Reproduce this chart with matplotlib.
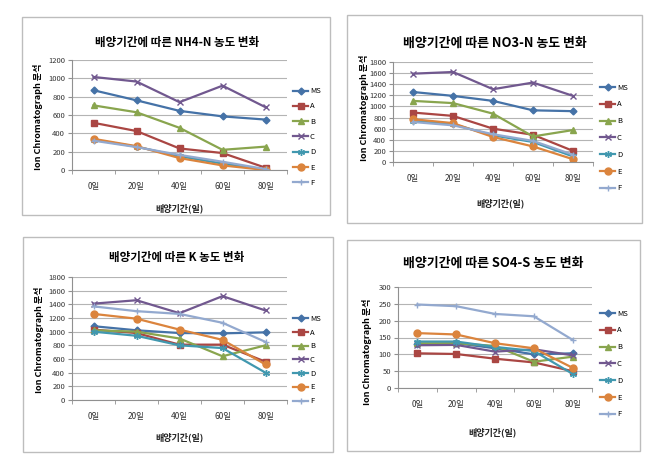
import matplotlib
matplotlib.use("Agg")
import matplotlib.pyplot as plt
from matplotlib.patches import Rectangle

plt.rcParams['font.family'] = ['Noto Sans CJK KR', 'DejaVu Sans']

W, H = 659, 462

days = ['0일', '20일', '40일', '60일', '80일']
series_names = ['MS', 'A', 'B', 'C', 'D', 'E', 'F']

# NH4-N
nh4_ms = [870, 760, 645, 585, 550]
nh4_a = [515, 425, 235, 185, 25]
nh4_b = [705, 630, 460, 220, 255]
nh4_c = [1015, 965, 740, 920, 685]
nh4_d = [330, 255, 150, 70, 5]
nh4_e = [340, 260, 130, 50, 0]
nh4_f = [320, 250, 165, 90, 10]

# NO3-N
no3_ms = [1260, 1190, 1100, 930, 915]
no3_a = [890, 830, 600, 490, 200]
no3_b = [1100, 1060, 870, 460, 575]
no3_c = [1590, 1620, 1310, 1430, 1190]
no3_d = [740, 680, 480, 360, 100]
no3_e = [770, 700, 450, 280, 50]
no3_f = [720, 660, 500, 380, 130]

# K
k_ms = [1080, 1020, 980, 975, 990]
k_a = [1030, 980, 810, 810, 560]
k_b = [1020, 1000, 900, 640, 800]
k_c = [1410, 1460, 1270, 1520, 1310]
k_d = [1000, 940, 800, 760, 400]
k_e = [1260, 1190, 1030, 880, 520]
k_f = [1370, 1300, 1260, 1130, 850]

# SO4-S
so4_ms = [130, 133, 118, 100, 103]
so4_a = [103, 101, 87, 76, 50]
so4_b = [133, 133, 125, 78, 93]
so4_c = [127, 128, 108, 115, 97]
so4_d = [138, 138, 122, 110, 42]
so4_e = [163, 159, 133, 118, 60]
so4_f = [248, 243, 220, 213, 143]

colors = ['#4572A7', '#AA4643', '#89A54E', '#71588F', '#4198AF', '#DB843D', '#93A9CF']
markers = ['D', 's', '^', 'x', (6, 2, 0), 'o', '+']
msizes = [3.5, 5, 4.5, 5, 5, 5, 5]


def fx(x):
    return x / W


def fy(y):
    return 1 - y / H


fig = plt.figure(figsize=(W / 100, H / 100), dpi=100)

panels = [
    dict(title='배양기간에 따른 NH4-N 농도 변화',
         data=[nh4_ms, nh4_a, nh4_b, nh4_c, nh4_d, nh4_e, nh4_f],
         ymax=1200, step=200, border=(22, 17, 330, 215), ax=(72, 60, 287, 170),
         tpos=(177, 42), tsize=8.3, xl=(180, 208), yl=(38, 117),
         leg=(293, 137), ls=0.95),
    dict(title='배양기간에 따른 NO3-N 농도 변화',
         data=[no3_ms, no3_a, no3_b, no3_c, no3_d, no3_e, no3_f],
         ymax=1800, step=200, border=(347, 15, 642, 223), ax=(393, 62, 593, 162),
         tpos=(495, 43), tsize=9.3, xl=(500, 203), yl=(364, 108),
         leg=(600, 138), ls=1.15),
    dict(title='배양기간에 따른 K 농도 변화',
         data=[k_ms, k_a, k_b, k_c, k_d, k_e, k_f],
         ymax=1800, step=200, border=(23, 237, 333, 452), ax=(72, 277, 287, 400),
         tpos=(177, 257), tsize=8.3, xl=(180, 437), yl=(39, 340),
         leg=(293, 360), ls=0.75),
    dict(title='배양기간에 따른 SO4-S 농도 변화',
         data=[so4_ms, so4_a, so4_b, so4_c, so4_d, so4_e, so4_f],
         ymax=300, step=50, border=(347, 240, 640, 451), ax=(398, 287, 592, 388),
         tpos=(493, 263), tsize=9.3, xl=(493, 432), yl=(367, 352),
         leg=(600, 364), ls=1.15),
]

for p in panels:
    bx0, by0, bx1, by1 = p['border']
    fig.patches.append(Rectangle((fx(bx0), fy(by1)), fx(bx1 - bx0), (by1 - by0) / H,
                                 transform=fig.transFigure, fill=False,
                                 edgecolor='#bdbdbd', linewidth=1.0))
    x0, y0, x1, y1 = p['ax']
    ax = fig.add_axes([fx(x0), fy(y1), fx(x1 - x0), (y1 - y0) / H])
    xs = list(range(len(days)))
    for vals, name, c, m, ms in zip(p['data'], series_names, colors, markers, msizes):
        ax.plot(xs, vals, color=c, marker=m, markersize=ms, linewidth=1.6,
                markeredgewidth=1.0, label=name)
    ax.set_xlim(-0.5, 4.5)
    ax.set_ylim(0, p['ymax'])
    ax.set_yticks(range(0, p['ymax'] + 1, p['step']))
    ax.grid(axis='y', color='#b4b4b4', linewidth=0.8)
    ax.set_axisbelow(True)
    ax.set_xticks(xs)
    ax.set_xticklabels(days, fontsize=6, color='#333333')
    ax.set_xticks([i - 0.5 for i in range(6)], minor=True)
    ax.tick_params(axis='x', which='major', length=0, pad=9)
    ax.tick_params(axis='x', which='minor', length=3, color='#909090')
    ax.tick_params(axis='y', labelsize=5.5, length=3, color='#909090', labelcolor='#333333', pad=2)
    for s in ['top', 'right']:
        ax.spines[s].set_visible(False)
    for s in ['left', 'bottom']:
        ax.spines[s].set_color('#909090')
        ax.spines[s].set_linewidth(0.8)

    fig.text(fx(p['tpos'][0]), fy(p['tpos'][1]), p['title'], ha='center', va='center',
             fontsize=p['tsize'], fontweight='bold')
    fig.text(fx(p['xl'][0]), fy(p['xl'][1]), '배양기간(일)', ha='center', va='center',
             fontsize=6.5, fontweight='bold', color='#222222')
    fig.text(fx(p['yl'][0]), fy(p['yl'][1]), 'Ion Chromatograph 분석', ha='center', va='center',
             rotation=90, fontsize=6.5, fontweight='bold')
    fig.legend(*ax.get_legend_handles_labels(), loc='center left',
               bbox_to_anchor=(fx(p['leg'][0]), fy(p['leg'][1])),
               frameon=False, fontsize=5.5, handlelength=2.0, handletextpad=0.2,
               labelspacing=p['ls'], borderpad=0, borderaxespad=0)

fig.savefig('out.png', dpi=100)
